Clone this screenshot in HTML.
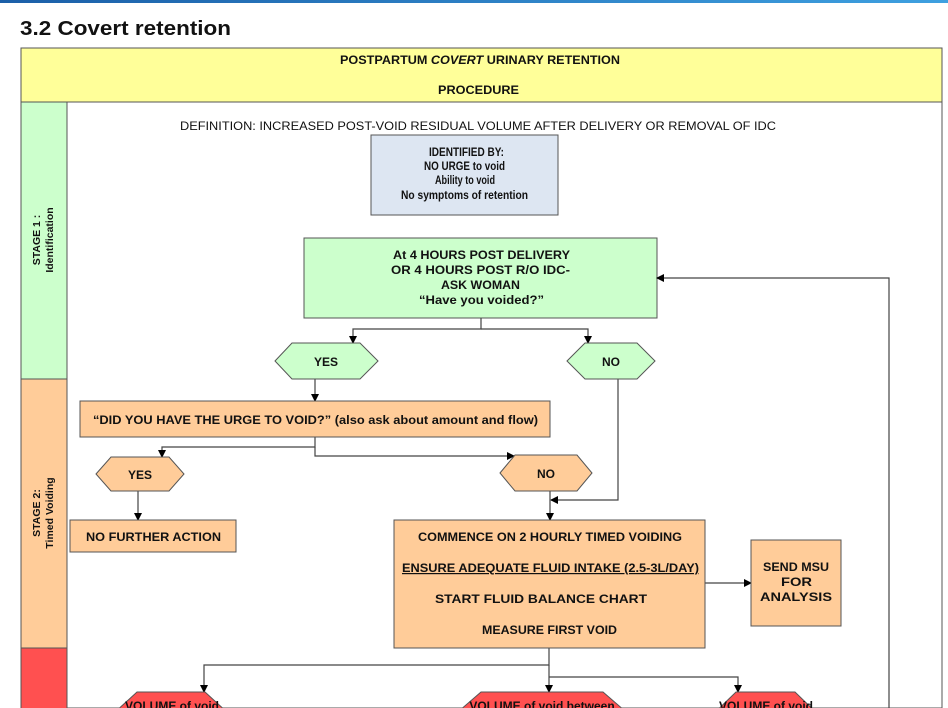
<!DOCTYPE html>
<html><head><meta charset="utf-8"><style>
html,body{margin:0;padding:0;background:#fff;width:948px;height:708px;overflow:hidden}
svg{display:block}
text{font-family:"Liberation Sans",Arial,sans-serif;font-weight:bold;fill:#111}
</style></head><body>
<svg width="948" height="708" viewBox="0 0 948 708" xmlns="http://www.w3.org/2000/svg">
<defs>
<linearGradient id="tb" x1="0" x2="1"><stop offset="0" stop-color="#1b5fa8"/><stop offset="1" stop-color="#3ea0e0"/></linearGradient>
<marker id="a" markerWidth="8" markerHeight="8" refX="7" refY="4" orient="auto" markerUnits="userSpaceOnUse"><path d="M0,0 L8,4 L0,8 z" fill="#000"/></marker>
</defs>
<rect x="0" y="0" width="948" height="3" fill="url(#tb)"/>
<text x="20" y="35" font-size="20" textLength="211" lengthAdjust="spacingAndGlyphs">3.2   Covert retention</text>

<rect x="21" y="48" width="921" height="660" fill="#fff" stroke="#555" stroke-width="1"/>
<rect x="21" y="48" width="921" height="54" fill="#ffff99" stroke="#555"/>
<g font-size="12" lengthAdjust="spacingAndGlyphs">
<text x="340" y="64" font-size="12" textLength="280" lengthAdjust="spacingAndGlyphs">POSTPARTUM <tspan font-style="italic">COVERT</tspan> URINARY RETENTION</text>
<text x="438" y="94" font-size="12" textLength="81" lengthAdjust="spacingAndGlyphs">PROCEDURE</text>
</g>

<rect x="21" y="102" width="46" height="277" fill="#ccffcc" stroke="#555"/>
<rect x="21" y="379" width="46" height="269" fill="#ffcc99" stroke="#555"/>
<rect x="21" y="648" width="46" height="62" fill="#ff5050" stroke="#555"/>
<text transform="translate(40,240) rotate(-90)" font-size="10.5" text-anchor="middle">STAGE 1 :</text>
<text transform="translate(53,240) rotate(-90)" font-size="10.5" text-anchor="middle">Identification</text>
<text transform="translate(40,513) rotate(-90)" font-size="10.5" text-anchor="middle">STAGE 2:</text>
<text transform="translate(53,513) rotate(-90)" font-size="10.5" text-anchor="middle">Timed Voiding</text>

<text x="180" y="130" font-size="12" textLength="596" lengthAdjust="spacingAndGlyphs" style="font-weight:normal">DEFINITION: INCREASED POST-VOID RESIDUAL VOLUME AFTER DELIVERY OR REMOVAL OF IDC</text>
<rect x="371" y="135" width="187" height="80" fill="#dde6f2" stroke="#555"/>
<g font-size="12">
<text x="429" y="156" textLength="75" lengthAdjust="spacingAndGlyphs">IDENTIFIED BY:</text>
<text x="424" y="170" textLength="81" lengthAdjust="spacingAndGlyphs">NO URGE to void</text>
<text x="435" y="184" textLength="60" lengthAdjust="spacingAndGlyphs">Ability to void</text>
<text x="401" y="199" textLength="127" lengthAdjust="spacingAndGlyphs">No symptoms of retention</text>
</g>

<rect x="304" y="238" width="353" height="80" fill="#ccffcc" stroke="#555"/>
<g font-size="12">
<text x="393" y="259" textLength="177" lengthAdjust="spacingAndGlyphs">At 4 HOURS POST DELIVERY</text>
<text x="391" y="274" textLength="179" lengthAdjust="spacingAndGlyphs">OR 4 HOURS POST R/O IDC-</text>
<text x="441" y="289" textLength="79" lengthAdjust="spacingAndGlyphs">ASK WOMAN</text>
<text x="419" y="304" textLength="125" lengthAdjust="spacingAndGlyphs">“Have you voided?”</text>
</g>
<g stroke="#444" stroke-width="1.2" fill="none">
<path d="M889,708 V278 H657" marker-end="url(#a)"/>
<path d="M481,318 V329 H353 V343" marker-end="url(#a)"/>
<path d="M481,329 H588 V343" marker-end="url(#a)"/>
<path d="M315,379 V401" marker-end="url(#a)"/>
<path d="M618,379 V500 H551" marker-end="url(#a)"/>
<path d="M315,437 V447 H162 V457" marker-end="url(#a)"/>
<path d="M315,447 V456 H514" marker-end="url(#a)"/>
<path d="M138,491 V520" marker-end="url(#a)"/>
<path d="M550,491 V520" marker-end="url(#a)"/>
<path d="M705,583 H751" marker-end="url(#a)"/>
<path d="M549,648 V665 H204 V692" marker-end="url(#a)"/>
<path d="M549,665 V692" marker-end="url(#a)"/>
<path d="M549,677 H738 V692" marker-end="url(#a)"/>
</g>

<polygon points="275,361 292,343 360,343 378,361 360,379 292,379" fill="#ccffcc" stroke="#555"/>
<text x="326" y="366" font-size="12" text-anchor="middle">YES</text>
<polygon points="567,361 585,343 637,343 655,361 637,379 585,379" fill="#ccffcc" stroke="#555"/>
<text x="611" y="366" font-size="12" text-anchor="middle">NO</text>

<rect x="80" y="401" width="470" height="36" fill="#ffcc99" stroke="#555"/>
<text x="93" y="424" font-size="12" textLength="445" lengthAdjust="spacingAndGlyphs">“DID YOU HAVE THE URGE TO VOID?” (also ask about amount and flow)</text>

<polygon points="96,474 111,457 169,457 184,474 169,491 111,491" fill="#ffcc99" stroke="#555"/>
<text x="140" y="479" font-size="12" text-anchor="middle">YES</text>
<polygon points="500,473 515,455 577,455 592,473 577,491 515,491" fill="#ffcc99" stroke="#555"/>
<text x="546" y="478" font-size="12" text-anchor="middle">NO</text>

<rect x="70" y="520" width="166" height="32" fill="#ffcc99" stroke="#555"/>
<text x="86" y="541" font-size="12" textLength="135" lengthAdjust="spacingAndGlyphs">NO FURTHER ACTION</text>

<rect x="394" y="520" width="311" height="128" fill="#ffcc99" stroke="#555"/>
<g font-size="12">
<text x="418" y="541" textLength="264" lengthAdjust="spacingAndGlyphs">COMMENCE ON 2 HOURLY TIMED VOIDING</text>
<text x="402" y="572" textLength="297" lengthAdjust="spacingAndGlyphs" text-decoration="underline">ENSURE ADEQUATE FLUID INTAKE (2.5-3L/DAY)</text>
<text x="435" y="603" textLength="212" lengthAdjust="spacingAndGlyphs">START FLUID BALANCE CHART</text>
<text x="482" y="634" textLength="135" lengthAdjust="spacingAndGlyphs">MEASURE FIRST VOID</text>
</g>
<rect x="751" y="540" width="90" height="86" fill="#ffcc99" stroke="#555"/>
<g font-size="12">
<text x="763" y="571" textLength="66" lengthAdjust="spacingAndGlyphs">SEND MSU</text>
<text x="781" y="586" textLength="31" lengthAdjust="spacingAndGlyphs">FOR</text>
<text x="760" y="601" textLength="72" lengthAdjust="spacingAndGlyphs">ANALYSIS</text>
</g>

<polygon points="137,692 205,692 240,724 102,724" fill="#ff5050" stroke="#555"/>
<text x="172" y="710" font-size="12" text-anchor="middle">VOLUME of void</text>
<polygon points="481,692 603,692 640,724 444,724" fill="#ff5050" stroke="#555"/>
<text x="542" y="710" font-size="12" text-anchor="middle">VOLUME of void between</text>
<polygon points="736,692 795,692 828,724 703,724" fill="#ff5050" stroke="#555"/>
<text x="766" y="710" font-size="12" text-anchor="middle">VOLUME of void</text>
</svg>
</body></html>
